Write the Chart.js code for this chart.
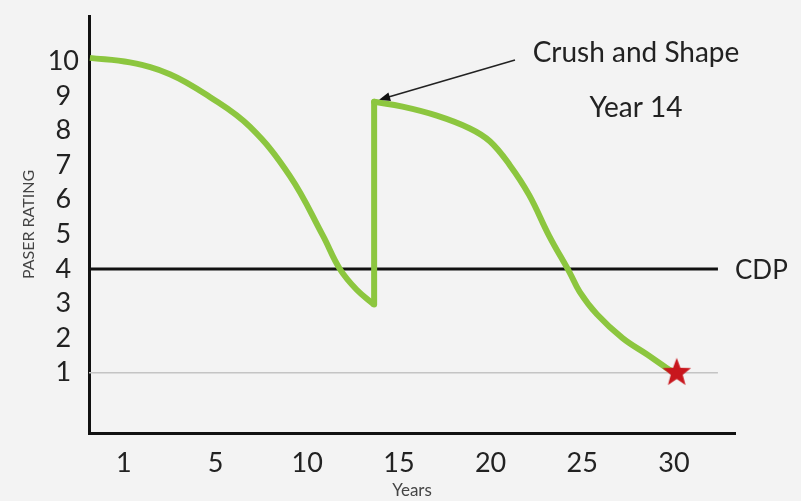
<!DOCTYPE html>
<html><head><meta charset="utf-8">
<script src="https://cdn.jsdelivr.net/npm/chart.js@4.4.1/dist/chart.umd.min.js"></script>
<style>html,body{margin:0;padding:0;background:#f3f3f3;overflow:hidden}canvas{display:block}</style>
</head><body><canvas id="c" width="801" height="501"></canvas>
<script>
// ---- data ----
const xTickValues = [0, 5, 10, 15, 20, 25, 30];
const xTickLabels = ['1', '5', '10', '15', '20', '25', '30'];
const yTickValues = [1, 2, 3, 4, 5, 6, 7, 8, 9, 10];

const yearsBefore  = [-1.85, 0.33, 2.51, 4.69, 6.87, 9.05, 10.85, 11.78, 12.7, 13.65];
const ratingBefore = [10.1, 9.97, 9.63, 8.97, 8.11, 6.69, 4.97, 4.0, 3.4, 2.97];

const yearsJump  = [13.65, 13.65];
const ratingJump = [2.97, 8.83];

const yearsAfter  = [13.65, 15.2, 17.07, 18.87, 19.96, 21.05, 22.1, 23.2, 24.3, 24.86, 25.8, 27.2, 28.5, 29.6, 30.0];
const ratingAfter = [8.83, 8.69, 8.43, 8.06, 7.69, 7.0, 6.14, 4.95, 3.91, 3.34, 2.69, 2.0, 1.54, 1.14, 1.02];

const refLineYears = [-1.9, 32.4];
const cdpLevel = 4;
const floorLevel = 1;

const starYears = [30.15];
const starRatings = [1.0];

const labelCrush = 'Crush and Shape';
const labelYear = 'Year 14';
const labelCdp = 'CDP';
const xTitle = 'Years';
const yTitle = 'PASER RATING';

// ---- helpers ----
const pts = (xs, ys) => xs.map((x, i) => ({x: x, y: ys[i]}));
function makeStar(r, color) {
  const s = Math.ceil(r * 2) + 2;
  const c = document.createElement('canvas');
  c.width = s; c.height = s;
  const g = c.getContext('2d');
  g.fillStyle = color;
  g.beginPath();
  for (let i = 0; i < 10; i++) {
    const a = -Math.PI / 2 + i * Math.PI / 5;
    const rr = i % 2 ? r * 0.42 : r;
    g.lineTo(s / 2 + rr * Math.cos(a), s / 2 + rr * Math.sin(a));
  }
  g.closePath();
  g.fill();
  return c;
}
const GREEN = '#8cc63f';
const FONT = 'Lato, "Open Sans", sans-serif';

const annot = {
  id: 'annot',
  afterDatasetsDraw(chart) {
    const ctx = chart.ctx;
    const xs = chart.scales.x, ys = chart.scales.y;
    ctx.save();
    ctx.fillStyle = '#222';
    ctx.font = '28px ' + FONT;
    ctx.textBaseline = 'middle';
    ctx.textAlign = 'center';
    ctx.fillText(labelCrush, 636, 53);
    ctx.fillText(labelYear, 636, 108);
    ctx.font = '26px ' + FONT;
    ctx.textAlign = 'left';
    ctx.fillText(labelCdp, 735, ys.getPixelForValue(cdpLevel) + 2);
    // arrow
    const tx = xs.getPixelForValue(yearsAfter[0]) + 5;
    const ty = ys.getPixelForValue(ratingAfter[0]) - 2;
    const sx = 515, sy = 60;
    const ang = Math.atan2(ty - sy, tx - sx);
    ctx.strokeStyle = '#222';
    ctx.lineWidth = 1.6;
    ctx.beginPath();
    ctx.moveTo(sx, sy);
    ctx.lineTo(tx - 8 * Math.cos(ang), ty - 8 * Math.sin(ang));
    ctx.stroke();
    ctx.fillStyle = '#111';
    ctx.beginPath();
    ctx.moveTo(tx, ty);
    ctx.lineTo(tx - 11 * Math.cos(ang) + 4.5 * Math.sin(ang), ty - 11 * Math.sin(ang) - 4.5 * Math.cos(ang));
    ctx.lineTo(tx - 11 * Math.cos(ang) - 4.5 * Math.sin(ang), ty - 11 * Math.sin(ang) + 4.5 * Math.cos(ang));
    ctx.closePath();
    ctx.fill();
    ctx.restore();
  }
};

new Chart(document.getElementById('c'), {
  type: 'line',
  data: {
    datasets: [
      {data: pts(refLineYears, refLineYears.map(() => floorLevel)), borderColor: '#c4c4c4', borderWidth: 1.6, pointRadius: 0, order: 5},
      {data: pts(refLineYears, refLineYears.map(() => cdpLevel)), borderColor: '#111', borderWidth: 3, pointRadius: 0, order: 4},
      {data: pts(yearsBefore, ratingBefore), borderColor: GREEN, borderWidth: 6, pointRadius: 0, tension: 0.4, order: 3},
      {data: pts(yearsJump, ratingJump), borderColor: GREEN, borderWidth: 6, pointRadius: 0, borderCapStyle: 'round', order: 2},
      {data: pts(yearsAfter, ratingAfter), borderColor: GREEN, borderWidth: 6, pointRadius: 0, tension: 0.4, borderCapStyle: 'round', order: 1},
      {data: pts(starYears, starRatings), showLine: false, pointStyle: makeStar(15, '#c8161d'), pointRadius: 15, order: 0}
    ]
  },
  options: {
    responsive: false,
    animation: false,
    devicePixelRatio: 1,
    events: [],
    layout: {padding: {top: 11, right: 66, bottom: 0, left: 0}},
    plugins: {legend: {display: false}, tooltip: {enabled: false}},
    scales: {
      x: {
        type: 'linear', min: -1.9, max: 33.33,
        afterBuildTicks: s => { s.ticks = xTickValues.map(v => ({value: v})); },
        afterFit: s => { s.height = 68; s.paddingLeft = 0; s.paddingRight = 0; },
        grid: {display: false, drawTicks: false},
        border: {display: true, color: '#111', width: 3},
        ticks: {
          padding: 14, color: '#222', font: {family: FONT, size: 27},
          maxRotation: 0, autoSkip: false,
          callback: v => xTickLabels[xTickValues.indexOf(v)]
        },
        title: {display: true, text: xTitle, color: '#444', font: {family: FONT, size: 17}, padding: {top: 0, bottom: 0}}
      },
      y: {
        type: 'linear', min: -0.74, max: 11.31,
        afterBuildTicks: s => { s.ticks = yTickValues.map(v => ({value: v})); },
        afterFit: s => { s.width = 89; s.paddingTop = 0; s.paddingBottom = 0; },
        grid: {display: false, drawTicks: false},
        border: {display: true, color: '#111', width: 3},
        ticks: {padding: 10, crossAlign: 'center', color: '#222', font: {family: FONT, size: 27}, autoSkip: false},
        title: {display: true, text: yTitle, color: '#444', font: {family: FONT, size: 16}, padding: {top: 19, bottom: 0}}
      }
    }
  },
  plugins: [annot]
});
</script>
</body></html>
